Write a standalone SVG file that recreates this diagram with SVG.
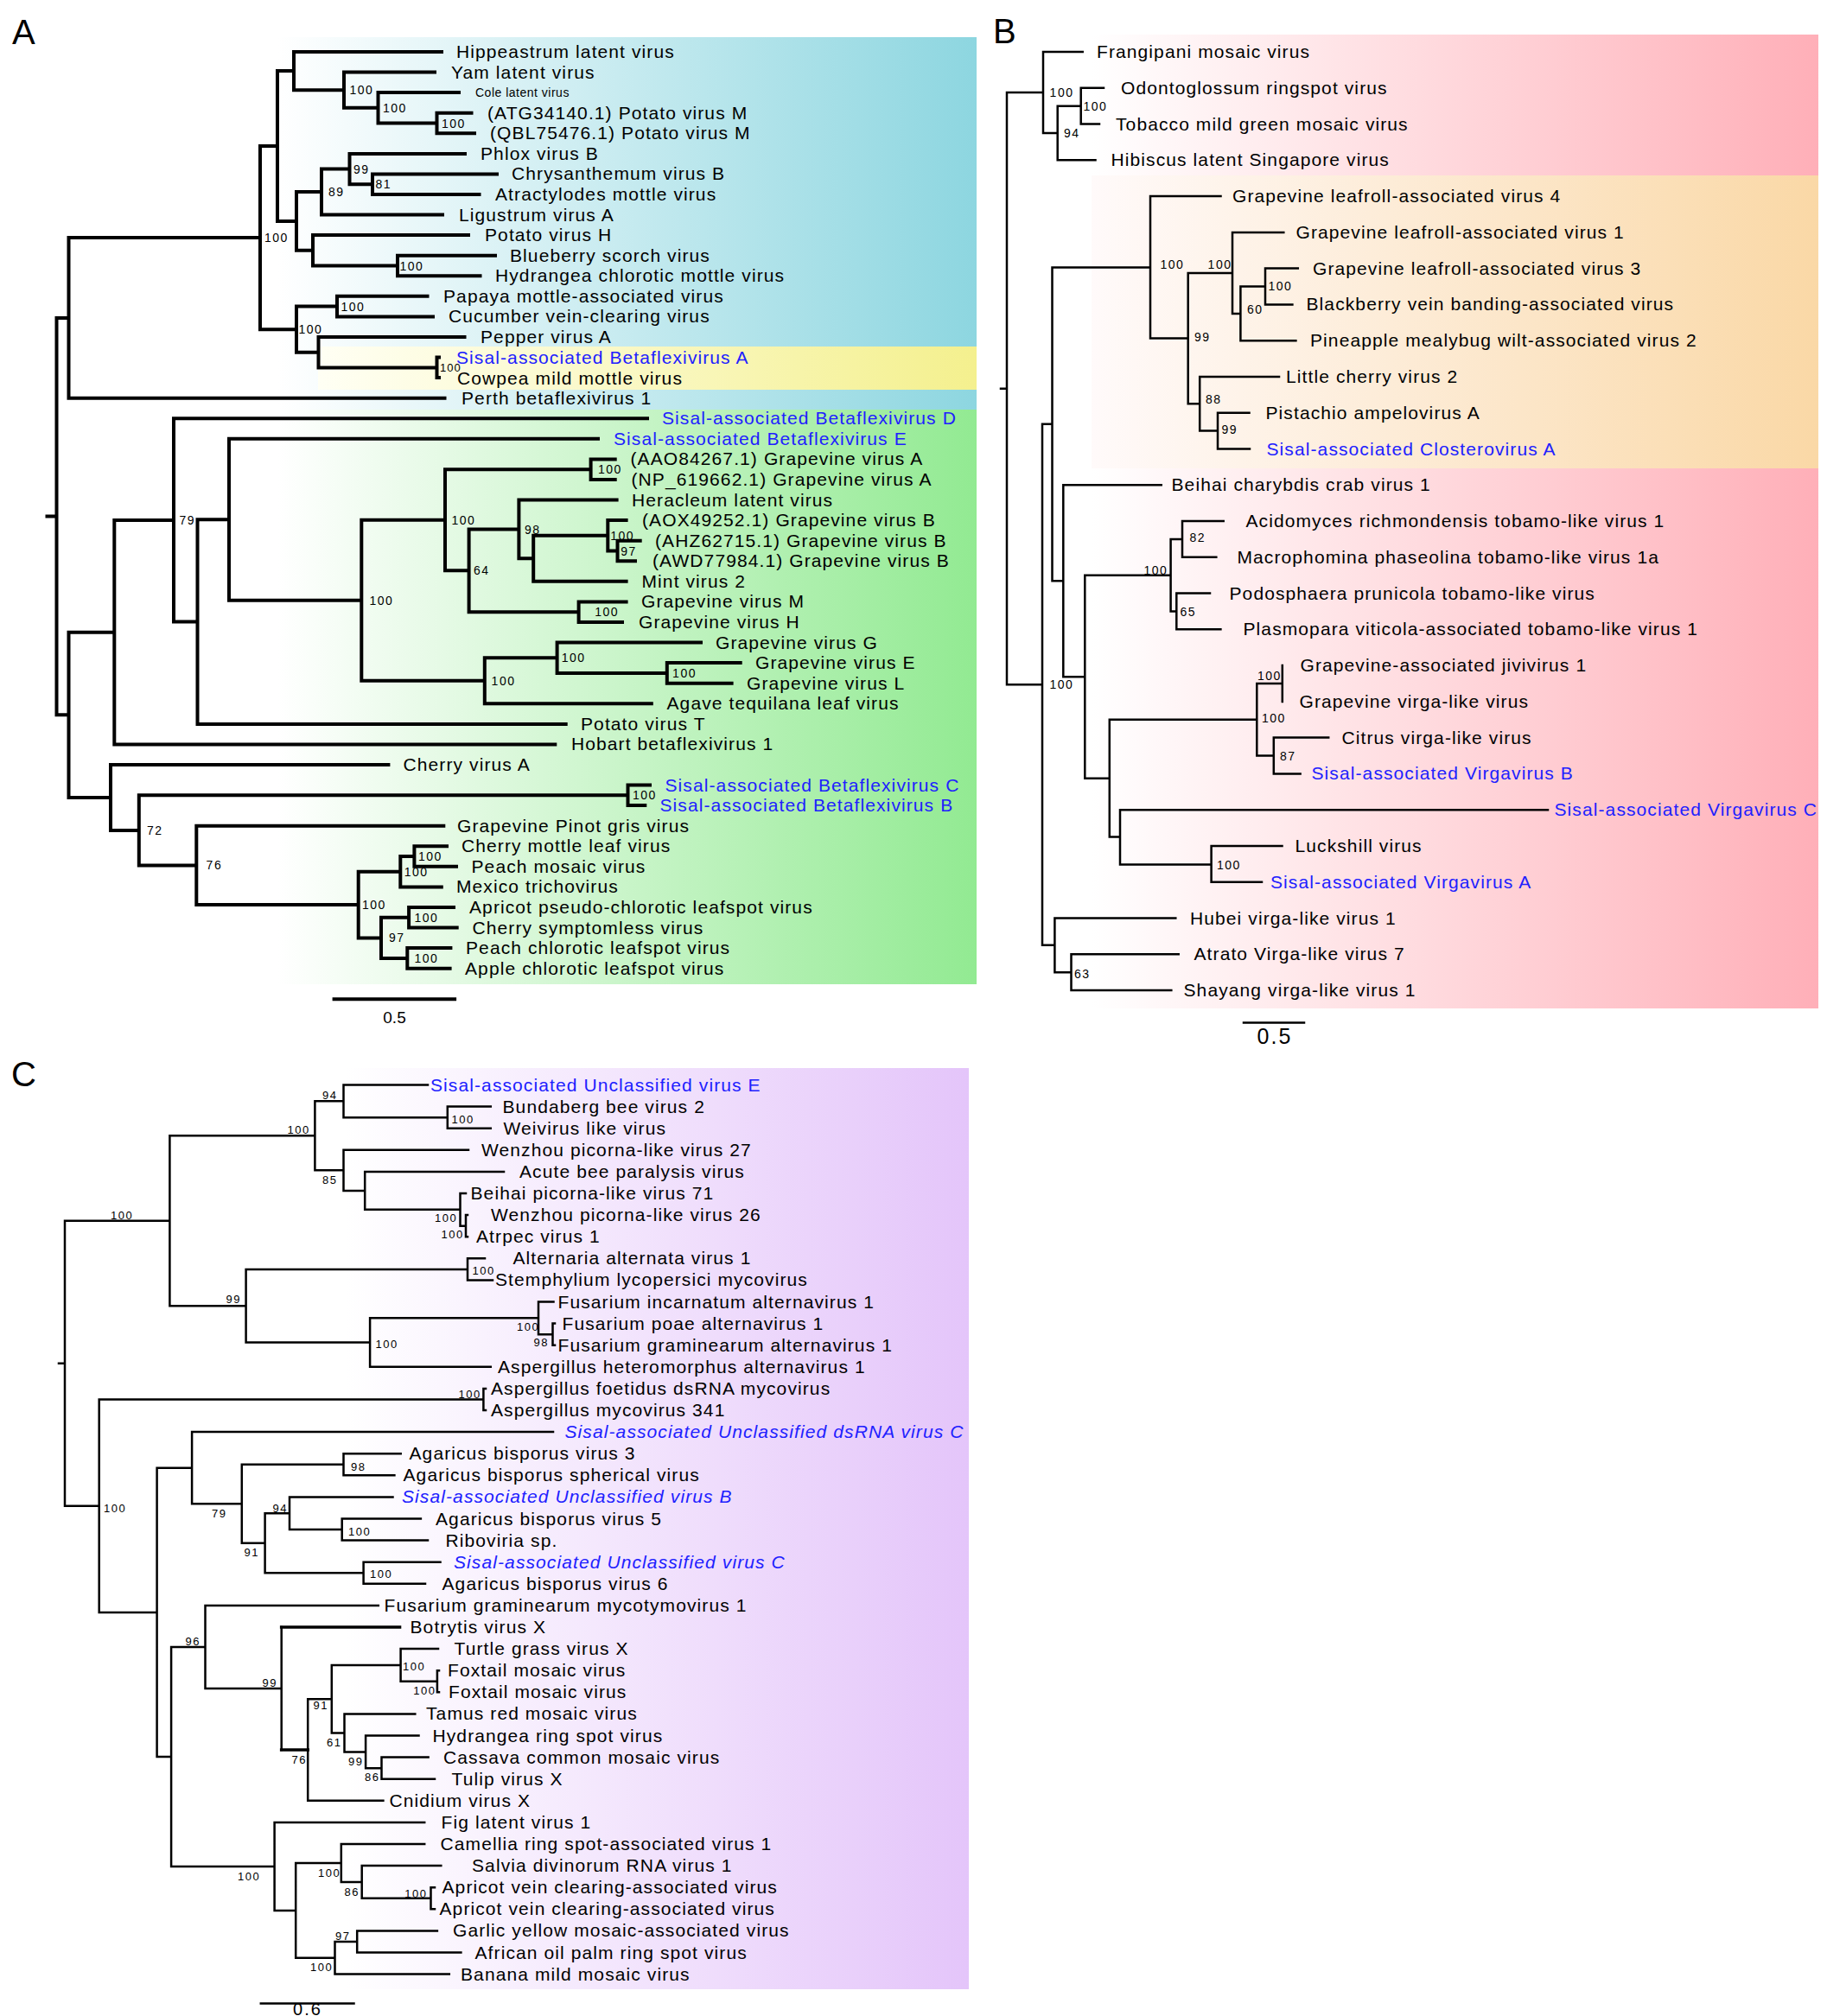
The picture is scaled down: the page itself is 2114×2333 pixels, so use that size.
<svg xmlns="http://www.w3.org/2000/svg" width="2114" height="2333" viewBox="0 0 2114 2333">
<defs>
<linearGradient id="gBlue" x1="0" y1="0" x2="1" y2="0"><stop offset="0" stop-color="#ffffff"/><stop offset="1" stop-color="#8dd6e0"/></linearGradient>
<linearGradient id="gYel" x1="0" y1="0" x2="1" y2="0"><stop offset="0" stop-color="#fffff4"/><stop offset="1" stop-color="#f4f08e"/></linearGradient>
<linearGradient id="gGreen" x1="0" y1="0" x2="1" y2="0"><stop offset="0" stop-color="#ffffff"/><stop offset="1" stop-color="#92ea92"/></linearGradient>
<linearGradient id="gPink" x1="0" y1="0" x2="1" y2="0"><stop offset="0" stop-color="#ffffff"/><stop offset="1" stop-color="#ffafb8"/></linearGradient>
<linearGradient id="gOr" x1="0" y1="0" x2="1" y2="0"><stop offset="0" stop-color="#fffafa"/><stop offset="1" stop-color="#fad8a6"/></linearGradient>
<linearGradient id="gPur" x1="0" y1="0" x2="1" y2="0"><stop offset="0" stop-color="#ffffff"/><stop offset="1" stop-color="#e4c5fa"/></linearGradient>
</defs>
<style>
text{font-family:"Liberation Sans",Arial,Helvetica,sans-serif}
.t{font-size:21px;letter-spacing:1.1px;fill:#000}
.s{fill:#2020ff}
.i{font-style:italic}
.b{font-size:14px;letter-spacing:1.5px;fill:#000}
.c{font-size:13px}
.p{font-size:40px;fill:#000}
.sc{fill:#000}
.br{fill:none;stroke:#000;stroke-linecap:square}
.wA{stroke-width:4}
.wB{stroke-width:2.5}
.wT{stroke-width:3.6}
</style>
<rect width="2114" height="2333" fill="#ffffff"/>
<g id="backgrounds">
<rect x="322" y="43" width="808" height="431" fill="url(#gBlue)"/>
<rect x="368" y="401" width="762" height="50" fill="url(#gYel)"/>
<rect x="322" y="474" width="808" height="665" fill="url(#gGreen)"/>
<rect x="1263" y="40" width="841" height="1127" fill="url(#gPink)"/>
<rect x="1263" y="203" width="841" height="339" fill="url(#gOr)"/>
<rect x="400" y="1236" width="721" height="1066" fill="url(#gPur)"/>
</g>
<g id="panel-labels">
<text class="p" x="14" y="51">A</text>
<text class="p" x="1149" y="50">B</text>
<text class="p" x="13" y="1257">C</text>
</g>
<g id="connectors">
<path class="br wA" d="M54.5,597.6H65.5M65.5,367.9V827.3M65.5,367.9H79.5M65.5,827.3H79.5
M79.5,275.1V460.7M79.5,275.1H301M79.5,460.7H514.5
M301,169.1V381.2M301,169.1H321M301,381.2H343
M321,82.1V256M321,82.1H340M321,256H343
M340,60V104.2M340,60H511M340,104.2H398
M398,83.6V124.8M398,83.6H503M398,124.8H437.5
M437.5,107.1V142.5M437.5,107.1H531M437.5,142.5H505.5
M505.5,130.7V154.3M505.5,130.7H545.5M505.5,154.3H549
M343,222.1V289.8M343,222.1H372M343,289.8H362
M372,195.6V248.6M372,195.6H404.5M372,248.6H512
M404.5,177.9V213.2M404.5,177.9H538M404.5,213.2H431
M431,201.4V225M431,201.4H575M431,225H554.5
M362,272.1V307.5M362,272.1H542M362,307.5H460
M460,295.7V319.3M460,295.7H573M460,319.3H555.5
M343,354.6V407.7M343,354.6H390M343,407.7H368.5
M390,342.8V366.4M390,342.8H494.5M390,366.4H501
M368.5,390V425.4M368.5,390H537.5M368.5,425.4H505.5
M505.5,413.6V437.1M505.5,413.6H508M505.5,437.1H508
M79.5,731.7V922.9M79.5,731.7H132.3M79.5,922.9H128
M132.3,602V861.4M132.3,602H201M132.3,861.4H642.3
M201,484.3V719.6M201,484.3H749M201,719.6H228.5
M228.5,601.3V837.9M228.5,601.3H265M228.5,837.9H654.7
M265,507.8V694.8M265,507.8H692M265,694.8H418.3
M418.3,601.8V787.8M418.3,601.8H515M418.3,787.8H560.8
M515,543.2V660.3M515,543.2H683.6M515,660.3H542.6
M683.6,531.4V555M683.6,531.4H711.7M683.6,555H711.7
M542.6,612.5V708.2M542.6,612.5H600.4M542.6,708.2H669.6
M600.4,578.6V646.3M600.4,578.6H713.6M600.4,646.3H617.2
M617.2,619.8V672.8M617.2,619.8H703.3M617.2,672.8H724.6
M703.3,602.1V637.5M703.3,602.1H724.6M703.3,637.5H714.5
M714.5,625.7V649.3M714.5,625.7H740.7M714.5,649.3H735
M669.6,696.4V720M669.6,696.4H724.6M669.6,720H720
M560.8,761.3V814.3M560.8,761.3H644.6M560.8,814.3H753.8
M644.6,743.6V778.9M644.6,743.6H811M644.6,778.9H771.8
M771.8,767.1V790.7M771.8,767.1H856.7M771.8,790.7H846.6
M128,885V960.9M128,885H449.4M128,960.9H160.8
M160.8,920.3V1001.4M160.8,920.3H726.5M160.8,1001.4H227.3
M726.5,908.6V932.1M726.5,908.6H752M726.5,932.1H746.3
M227.3,955.7V1047M227.3,955.7H513.3M227.3,1047H414.7
M414.7,1008.7V1085.4M414.7,1008.7H463.3M414.7,1085.4H441
M463.3,991V1026.4M463.3,991H479.4M463.3,1026.4H510.8
M479.4,979.3V1002.8M479.4,979.3H517M479.4,1002.8H528
M441,1061.8V1108.9M441,1061.8H473.1M441,1108.9H471.3
M473.1,1050V1073.6M473.1,1050H525M473.1,1073.6H528.7
M471.3,1097.1V1120.7M471.3,1097.1H521.4M471.3,1120.7H520.6
M386.6,1156.2H526.1"/>
<path class="br wB" d="M1158,449.7H1165M1165,107V792.3M1165,107H1207M1165,792.3H1206
M1207,60V154M1207,60H1252.7M1207,154H1223.7
M1223.7,122.7V185.3M1223.7,122.7H1250.7M1223.7,185.3H1267.5
M1250.7,101.8V143.5M1250.7,101.8H1277M1250.7,143.5H1272
M1206,490.8V1093.8M1206,490.8H1217.5M1206,1093.8H1220.4
M1217.5,309.4V672.2M1217.5,309.4H1331M1217.5,672.2H1230.3
M1331,227.1V391.6M1331,227.1H1412.5M1331,391.6H1374.7
M1374.7,315.9V467.3M1374.7,315.9H1426M1374.7,467.3H1388.2
M1426,268.9V362.9M1426,268.9H1485.3M1426,362.9H1435.4
M1435.4,331.5V394.2M1435.4,331.5H1464M1435.4,394.2H1499.4
M1464,310.6V352.4M1464,310.6H1501.8M1464,352.4H1495.4
M1388.2,435.9V498.6M1388.2,435.9H1480M1388.2,498.6H1409
M1409,477.7V519.5M1409,477.7H1445.5M1409,519.5H1446
M1230.3,561.2V783.2M1230.3,561.2H1343.7M1230.3,783.2H1255.3
M1255.3,665.7V900.7M1255.3,665.7H1354.6M1255.3,900.7H1283.8
M1354.6,623.9V707.5M1354.6,623.9H1368M1354.6,707.5H1361.3
M1368,603V644.8M1368,603H1415.7M1368,644.8H1407.3
M1361.3,686.6V728.3M1361.3,686.6H1400M1361.3,728.3H1412.4
M1283.8,832.8V968.6M1283.8,832.8H1454.3M1283.8,968.6H1296
M1454.3,791V874.5M1454.3,791H1483.8M1454.3,874.5H1473.8
M1483.8,770.1V811.9
M1473.8,853.6V895.4M1473.8,853.6H1537.2M1473.8,895.4H1504.6
M1296,937.2V1000.4M1296,937.2H1791M1296,1000.4H1401.6
M1401.6,979V1020.7M1401.6,979H1483.5M1401.6,1020.7H1460
M1220.4,1062.5V1125.2M1220.4,1062.5H1360.3M1220.4,1125.2H1239.5
M1239.5,1104.3V1146M1239.5,1104.3H1363.7M1239.5,1146H1355.3
M1439,1183.4H1509"/>
<path class="br wB" d="M68,1577.8H75M75,1412.8V1742.7M75,1412.8H196.4M75,1742.7H114.7
M196.4,1314.3V1511.2M196.4,1314.3H364.4M196.4,1511.2H284.6
M364.4,1274.3V1354.3M364.4,1274.3H397.5M364.4,1354.3H397.5
M397.5,1255.5V1293.2M397.5,1255.5H495M397.5,1293.2H517.8
M517.8,1280.6V1305.7M517.8,1280.6H567.8M517.8,1305.7H567.8
M397.5,1330.8V1377.9M397.5,1330.8H542M397.5,1377.9H422.2
M422.2,1355.9V1399.8M422.2,1355.9H583M422.2,1399.8H532.5
M532.5,1381V1418.7M532.5,1381H539M532.5,1418.7H539
M539,1406.1V1431.2M539,1406.1H541M539,1431.2H541
M284.6,1468.9V1553.6M284.6,1468.9H541M284.6,1553.6H428.1
M541,1456.3V1481.4M541,1456.3H561M541,1481.4H570
M428.1,1525.3V1581.8M428.1,1525.3H623M428.1,1581.8H567.8
M623,1506.5V1544.2M623,1506.5H640.5M623,1544.2H639.5
M639.5,1531.6V1556.7M639.5,1531.6H642M639.5,1556.7H642
M114.7,1619.5V1865.9M114.7,1619.5H559.4M114.7,1865.9H181.6
M559.4,1606.9V1632M559.4,1606.9H562M559.4,1632H562
M181.6,1698.7V2033M181.6,1698.7H222.1M181.6,2033H198.1
M222.1,1657.1V1740.2M222.1,1657.1H640M222.1,1740.2H279.8
M279.8,1694.8V1785.7M279.8,1694.8H397.5M279.8,1785.7H306.6
M397.5,1682.2V1707.3M397.5,1682.2H463.7M397.5,1707.3H456.4
M306.6,1751.2V1820.3M306.6,1751.2H335M306.6,1820.3H420.6
M335,1732.4V1770M335,1732.4H454.5M335,1770H395.7
M395.7,1757.5V1782.6M395.7,1757.5H486.9M395.7,1782.6H495
M420.6,1807.7V1832.8M420.6,1807.7H509.5M420.6,1832.8H492
M198.1,1906V2159.9M198.1,1906H237.5M198.1,2159.9H317.6
M237.5,1857.9V1954M237.5,1857.9H437.8M237.5,1954H325.7
M325.7,1883V2025
M356.2,1966.2V2083.8M356.2,1966.2H383.8M356.2,2083.8H443.4
M383.8,1927V2005.4M383.8,1927H463.6M383.8,2005.4H398.5
M463.6,1908.1V1945.8M463.6,1908.1H507M463.6,1945.8H505.9
M505.9,1933.2V1958.3M505.9,1933.2H508M505.9,1958.3H508
M398.5,1983.4V2027.4M398.5,1983.4H480.3M398.5,2027.4H423.1
M423.1,2008.5V2046.2M423.1,2008.5H484.5M423.1,2046.2H441.5
M441.5,2033.6V2058.7M441.5,2033.6H495.6M441.5,2058.7H503
M317.6,2108.9V2210.9M317.6,2108.9H491.2M317.6,2210.9H342.2
M342.2,2156V2265.8M342.2,2156H394.8M342.2,2265.8H387.5
M394.8,2134V2178M394.8,2134H491.2M394.8,2178H418.7
M418.7,2159.1V2196.8M418.7,2159.1H510.3M418.7,2196.8H498.5
M498.5,2184.2V2209.3M498.5,2184.2H503M498.5,2209.3H503
M387.5,2247V2284.6M387.5,2247H413.2M387.5,2284.6H519.8
M413.2,2234.4V2259.5M413.2,2234.4H505.9M413.2,2259.5H533.4
M301.8,2318.5H409.5"/>
<path class="br wT" d="M325.7,1883H462.5M325.7,2025H356.2"/>
</g>
<g id="scale-labels">
<text class="sc" x="456.5" y="1184" font-size="19" text-anchor="middle">0.5</text>
<text class="sc" x="1475" y="1208" font-size="25" letter-spacing="2" text-anchor="middle">0.5</text>
<text class="sc" x="356" y="2332" font-size="20" letter-spacing="2" text-anchor="middle">0.6</text>
</g>
<g id="A-tips">
<g id="A01"><text class="t" x="528" y="67">Hippeastrum latent virus</text></g>
<g id="A02"><text class="t" x="522" y="90.6">Yam latent virus</text></g>
<g id="A03"><text class="t" x="550" y="112.1" style="font-size:14px;letter-spacing:0.5px">Cole latent virus</text></g>
<g id="A04"><text class="t" x="564" y="137.7">(ATG34140.1) Potato virus M</text></g>
<g id="A05"><text class="t" x="567" y="161.3">(QBL75476.1) Potato virus M</text></g>
<g id="A06"><text class="t" x="556" y="184.9">Phlox virus B</text></g>
<g id="A07"><text class="t" x="592" y="208.4">Chrysanthemum virus B</text></g>
<g id="A08"><text class="t" x="573" y="232">Atractylodes mottle virus</text></g>
<g id="A09"><text class="t" x="531" y="255.6">Ligustrum virus A</text></g>
<g id="A10"><text class="t" x="561" y="279.1">Potato virus H</text></g>
<g id="A11"><text class="t" x="590" y="302.7">Blueberry scorch virus</text></g>
<g id="A12"><text class="t" x="573" y="326.3">Hydrangea chlorotic mottle virus</text></g>
<g id="A13"><text class="t" x="513" y="349.8">Papaya mottle-associated virus</text></g>
<g id="A14"><text class="t" x="519" y="373.4">Cucumber vein-clearing virus</text></g>
<g id="A15"><text class="t" x="556" y="397">Pepper virus A</text></g>
<g id="A16"><text class="t s" x="528" y="420.6">Sisal-associated Betaflexivirus A</text></g>
<g id="A17"><text class="t" x="529" y="444.6">Cowpea mild mottle virus</text></g>
<g id="A18"><text class="t" x="534" y="467.7">Perth betaflexivirus 1</text></g>
<g id="A19"><text class="t s" x="766" y="491.3">Sisal-associated Betaflexivirus D</text></g>
<g id="A20"><text class="t s" x="710" y="514.8">Sisal-associated Betaflexivirus E</text></g>
<g id="A21"><text class="t" x="729.5" y="538.4">(AAO84267.1) Grapevine virus A</text></g>
<g id="A22"><text class="t" x="730.5" y="562">(NP_619662.1) Grapevine virus A</text></g>
<g id="A23"><text class="t" x="731" y="585.6">Heracleum latent virus</text></g>
<g id="A24"><text class="t" x="743" y="609.1">(AOX49252.1) Grapevine virus B</text></g>
<g id="A25"><text class="t" x="758" y="632.7">(AHZ62715.1) Grapevine virus B</text></g>
<g id="A26"><text class="t" x="755" y="656.3">(AWD77984.1) Grapevine virus B</text></g>
<g id="A27"><text class="t" x="742.5" y="679.8">Mint virus 2</text></g>
<g id="A28"><text class="t" x="742" y="703.4">Grapevine virus M</text></g>
<g id="A29"><text class="t" x="739" y="727">Grapevine virus H</text></g>
<g id="A30"><text class="t" x="828" y="750.6">Grapevine virus G</text></g>
<g id="A31"><text class="t" x="874" y="774.1">Grapevine virus E</text></g>
<g id="A32"><text class="t" x="864" y="797.7">Grapevine virus L</text></g>
<g id="A33"><text class="t" x="771.5" y="821.3">Agave tequilana leaf virus</text></g>
<g id="A34"><text class="t" x="672" y="844.9">Potato virus T</text></g>
<g id="A35"><text class="t" x="661" y="868.4">Hobart betaflexivirus 1</text></g>
<g id="A36"><text class="t" x="466.5" y="892">Cherry virus A</text></g>
<g id="A37"><text class="t s" x="769.5" y="915.6">Sisal-associated Betaflexivirus C</text></g>
<g id="A38"><text class="t s" x="763.5" y="939.1">Sisal-associated Betaflexivirus B</text></g>
<g id="A39"><text class="t" x="529" y="962.7">Grapevine Pinot gris virus</text></g>
<g id="A40"><text class="t" x="534" y="986.3">Cherry mottle leaf virus</text></g>
<g id="A41"><text class="t" x="545.5" y="1009.8">Peach mosaic virus</text></g>
<g id="A42"><text class="t" x="528" y="1033.4">Mexico trichovirus</text></g>
<g id="A43"><text class="t" x="543" y="1057">Apricot pseudo-chlorotic leafspot virus</text></g>
<g id="A44"><text class="t" x="546.5" y="1080.6">Cherry symptomless virus</text></g>
<g id="A45"><text class="t" x="539" y="1104.1">Peach chlorotic leafspot virus</text></g>
<g id="A46"><text class="t" x="538" y="1127.7">Apple chlorotic leafspot virus</text></g>
</g>
<g id="A-support">
<text class="b" x="306" y="280.1">100</text>
<text class="b" x="404.5" y="109.2">100</text>
<text class="b" x="443" y="129.8">100</text>
<text class="b" x="511" y="147.5">100</text>
<text class="b" x="380" y="227.1">89</text>
<text class="b" x="409" y="200.6">99</text>
<text class="b" x="434.5" y="218.2">81</text>
<text class="b" x="462.5" y="312.5">100</text>
<text class="b" x="345.5" y="386.2">100</text>
<text class="b" x="394.5" y="359.6">100</text>
<text class="b" x="509" y="430.4" style="font-size:13px;letter-spacing:1px">100</text>
<text class="b" x="207.5" y="607">79</text>
<text class="b" x="427.5" y="699.8">100</text>
<text class="b" x="522.5" y="606.8">100</text>
<text class="b" x="692" y="548.2">100</text>
<text class="b" x="548" y="665.3">64</text>
<text class="b" x="607" y="617.5">98</text>
<text class="b" x="706.3" y="624.8">100</text>
<text class="b" x="718.3" y="642.5">97</text>
<text class="b" x="688.3" y="713.2">100</text>
<text class="b" x="568.6" y="792.8">100</text>
<text class="b" x="649.8" y="766.3">100</text>
<text class="b" x="778.1" y="783.9">100</text>
<text class="b" x="170" y="965.9">72</text>
<text class="b" x="732" y="925.3">100</text>
<text class="b" x="238.6" y="1006.4">76</text>
<text class="b" x="419" y="1052">100</text>
<text class="b" x="467.7" y="1013.7">100</text>
<text class="b" x="484" y="996">100</text>
<text class="b" x="450" y="1090.4">97</text>
<text class="b" x="479.4" y="1066.8">100</text>
<text class="b" x="479.4" y="1113.9">100</text>
</g>
<g id="B-tips">
<g id="B01"><text class="t" x="1269" y="67">Frangipani mosaic virus</text></g>
<g id="B02"><text class="t" x="1297" y="108.8">Odontoglossum ringspot virus</text></g>
<g id="B03"><text class="t" x="1291" y="150.5">Tobacco mild green mosaic virus</text></g>
<g id="B04"><text class="t" x="1285.5" y="192.3">Hibiscus latent Singapore virus</text></g>
<g id="B05"><text class="t" x="1426" y="234.1">Grapevine leafroll-associated virus 4</text></g>
<g id="B06"><text class="t" x="1499.5" y="275.9">Grapevine leafroll-associated virus 1</text></g>
<g id="B07"><text class="t" x="1519" y="317.6">Grapevine leafroll-associated virus 3</text></g>
<g id="B08"><text class="t" x="1511.5" y="359.4">Blackberry vein banding-associated virus</text></g>
<g id="B09"><text class="t" x="1516" y="401.2">Pineapple mealybug wilt-associated virus 2</text></g>
<g id="B10"><text class="t" x="1488" y="442.9">Little cherry virus 2</text></g>
<g id="B11"><text class="t" x="1464.5" y="484.7">Pistachio ampelovirus A</text></g>
<g id="B12"><text class="t s" x="1465.5" y="526.5">Sisal-associated Closterovirus A</text></g>
<g id="B13"><text class="t" x="1355.5" y="568.2">Beihai charybdis crab virus 1</text></g>
<g id="B14"><text class="t" x="1441.5" y="610">Acidomyces richmondensis tobamo-like virus 1</text></g>
<g id="B15"><text class="t" x="1431.5" y="651.8">Macrophomina phaseolina tobamo-like virus 1a</text></g>
<g id="B16"><text class="t" x="1422.5" y="693.6">Podosphaera prunicola tobamo-like virus</text></g>
<g id="B17"><text class="t" x="1438.5" y="735.3">Plasmopara viticola-associated tobamo-like virus 1</text></g>
<g id="B18"><text class="t" x="1504.5" y="777.1">Grapevine-associated jivivirus 1</text></g>
<g id="B19"><text class="t" x="1503.5" y="818.9">Grapevine virga-like virus</text></g>
<g id="B20"><text class="t" x="1552.5" y="860.6">Citrus virga-like virus</text></g>
<g id="B21"><text class="t s" x="1517.5" y="902.4">Sisal-associated Virgavirus B</text></g>
<g id="B22"><text class="t s" x="1798.5" y="944.2">Sisal-associated Virgavirus C</text></g>
<g id="B23"><text class="t" x="1498.5" y="986">Luckshill virus</text></g>
<g id="B24"><text class="t s" x="1470" y="1027.7">Sisal-associated Virgavirus A</text></g>
<g id="B25"><text class="t" x="1377" y="1069.5">Hubei virga-like virus 1</text></g>
<g id="B26"><text class="t" x="1381.5" y="1111.3">Atrato Virga-like virus 7</text></g>
<g id="B27"><text class="t" x="1369.5" y="1153">Shayang virga-like virus 1</text></g>
</g>
<g id="B-support">
<text class="b" x="1214.6" y="112">100</text>
<text class="b" x="1231" y="159">94</text>
<text class="b" x="1253.5" y="127.7">100</text>
<text class="b" x="1214.4" y="797.3">100</text>
<text class="b" x="1342.5" y="311">100</text>
<text class="b" x="1382" y="395.4">99</text>
<text class="b" x="1397.6" y="311">100</text>
<text class="b" x="1443" y="362.6">60</text>
<text class="b" x="1467.5" y="335.6">100</text>
<text class="b" x="1395" y="466.7">88</text>
<text class="b" x="1413.5" y="501.8">99</text>
<text class="b" x="1323.5" y="664.9">100</text>
<text class="b" x="1376.5" y="627.1">82</text>
<text class="b" x="1365.5" y="712.8">65</text>
<text class="b" x="1460" y="836.1">100</text>
<text class="b" x="1455" y="786.6">100</text>
<text class="b" x="1481" y="880">87</text>
<text class="b" x="1408" y="1005.8">100</text>
<text class="b" x="1243" y="1131.6">63</text>
</g>
<g id="C-tips">
<g id="C01"><text class="t s" x="498" y="1262.5">Sisal-associated Unclassified virus E</text></g>
<g id="C02"><text class="t" x="581.5" y="1287.6">Bundaberg bee virus 2</text></g>
<g id="C03"><text class="t" x="582.5" y="1312.7">Weivirus like virus</text></g>
<g id="C04"><text class="t" x="557" y="1337.8">Wenzhou picorna-like virus 27</text></g>
<g id="C05"><text class="t" x="601" y="1362.9">Acute bee paralysis virus</text></g>
<g id="C06"><text class="t" x="544.5" y="1388">Beihai picorna-like virus 71</text></g>
<g id="C07"><text class="t" x="568" y="1413.1">Wenzhou picorna-like virus 26</text></g>
<g id="C08"><text class="t" x="551" y="1438.2">Atrpec virus 1</text></g>
<g id="C09"><text class="t" x="593.5" y="1463.3">Alternaria alternata virus 1</text></g>
<g id="C10"><text class="t" x="573" y="1488.4">Stemphylium lycopersici mycovirus</text></g>
<g id="C11"><text class="t" x="645.5" y="1513.5">Fusarium incarnatum alternavirus 1</text></g>
<g id="C12"><text class="t" x="650.5" y="1538.6">Fusarium poae alternavirus 1</text></g>
<g id="C13"><text class="t" x="645.5" y="1563.7">Fusarium graminearum alternavirus 1</text></g>
<g id="C14"><text class="t" x="576" y="1588.8">Aspergillus heteromorphus alternavirus 1</text></g>
<g id="C15"><text class="t" x="568" y="1613.9">Aspergillus foetidus dsRNA mycovirus</text></g>
<g id="C16"><text class="t" x="568" y="1639">Aspergillus mycovirus 341</text></g>
<g id="C17"><text class="t s i" x="653.5" y="1664.1">Sisal-associated Unclassified dsRNA virus C</text></g>
<g id="C18"><text class="t" x="473.5" y="1689.2">Agaricus bisporus virus 3</text></g>
<g id="C19"><text class="t" x="466.5" y="1714.3">Agaricus bisporus spherical virus</text></g>
<g id="C20"><text class="t s i" x="465" y="1739.4">Sisal-associated Unclassified virus B</text></g>
<g id="C21"><text class="t" x="504" y="1764.5">Agaricus bisporus virus 5</text></g>
<g id="C22"><text class="t" x="515.5" y="1789.6">Riboviria sp.</text></g>
<g id="C23"><text class="t s i" x="525" y="1814.7">Sisal-associated Unclassified virus C</text></g>
<g id="C24"><text class="t" x="511.5" y="1839.8">Agaricus bisporus virus 6</text></g>
<g id="C25"><text class="t" x="444.5" y="1864.9">Fusarium graminearum mycotymovirus 1</text></g>
<g id="C26"><text class="t" x="474.5" y="1890">Botrytis virus X</text></g>
<g id="C27"><text class="t" x="525.5" y="1915.1">Turtle grass virus X</text></g>
<g id="C28"><text class="t" x="518" y="1940.2">Foxtail mosaic virus</text></g>
<g id="C29"><text class="t" x="519" y="1965.3">Foxtail mosaic virus</text></g>
<g id="C30"><text class="t" x="493" y="1990.4">Tamus red mosaic virus</text></g>
<g id="C31"><text class="t" x="500.5" y="2015.5">Hydrangea ring spot virus</text></g>
<g id="C32"><text class="t" x="513" y="2040.6">Cassava common mosaic virus</text></g>
<g id="C33"><text class="t" x="522.5" y="2065.7">Tulip virus X</text></g>
<g id="C34"><text class="t" x="450.5" y="2090.8">Cnidium virus X</text></g>
<g id="C35"><text class="t" x="510.5" y="2115.9">Fig latent virus 1</text></g>
<g id="C36"><text class="t" x="509.5" y="2141">Camellia ring spot-associated virus 1</text></g>
<g id="C37"><text class="t" x="546" y="2166.1">Salvia divinorum RNA virus 1</text></g>
<g id="C38"><text class="t" x="511.5" y="2191.2">Apricot vein clearing-associated virus</text></g>
<g id="C39"><text class="t" x="508.5" y="2216.3">Apricot vein clearing-associated virus</text></g>
<g id="C40"><text class="t" x="524" y="2241.4">Garlic yellow mosaic-associated virus</text></g>
<g id="C41"><text class="t" x="549.5" y="2266.5">African oil palm ring spot virus</text></g>
<g id="C42"><text class="t" x="533" y="2291.6">Banana mild mosaic virus</text></g>
</g>
<g id="C-support">
<text class="b c" x="128" y="1411">100</text>
<text class="b c" x="332.5" y="1312">100</text>
<text class="b c" x="373" y="1272.3">94</text>
<text class="b c" x="522.5" y="1299.9">100</text>
<text class="b c" x="373" y="1369.7">85</text>
<text class="b c" x="503" y="1414.2">100</text>
<text class="b c" x="510.5" y="1433.4">100</text>
<text class="b c" x="261.5" y="1508">99</text>
<text class="b c" x="546.5" y="1474.9">100</text>
<text class="b c" x="434.5" y="1560.2">100</text>
<text class="b c" x="598" y="1540">100</text>
<text class="b c" x="617.5" y="1558.4">98</text>
<text class="b c" x="120" y="1750.4">100</text>
<text class="b c" x="530.5" y="1618.4">100</text>
<text class="b c" x="245" y="1756.3">79</text>
<text class="b c" x="282.5" y="1800.5">91</text>
<text class="b c" x="406" y="1701.8">98</text>
<text class="b c" x="315.5" y="1749.7">94</text>
<text class="b c" x="403" y="1777.3">100</text>
<text class="b c" x="428" y="1826.4">100</text>
<text class="b c" x="214.5" y="1904">96</text>
<text class="b c" x="303.5" y="1952">99</text>
<text class="b c" x="337.5" y="2040.5">76</text>
<text class="b c" x="362.5" y="1977.7">91</text>
<text class="b c" x="466" y="1933.4">100</text>
<text class="b c" x="478.3" y="1961.1">100</text>
<text class="b c" x="378" y="2021">61</text>
<text class="b c" x="403" y="2043.4">99</text>
<text class="b c" x="422" y="2060.8">86</text>
<text class="b c" x="275" y="2176">100</text>
<text class="b c" x="368" y="2171.5">100</text>
<text class="b c" x="398.5" y="2193.7">86</text>
<text class="b c" x="468.3" y="2195.5">100</text>
<text class="b c" x="359" y="2281.2">100</text>
<text class="b c" x="388" y="2245.4">97</text>
</g>
</svg>
